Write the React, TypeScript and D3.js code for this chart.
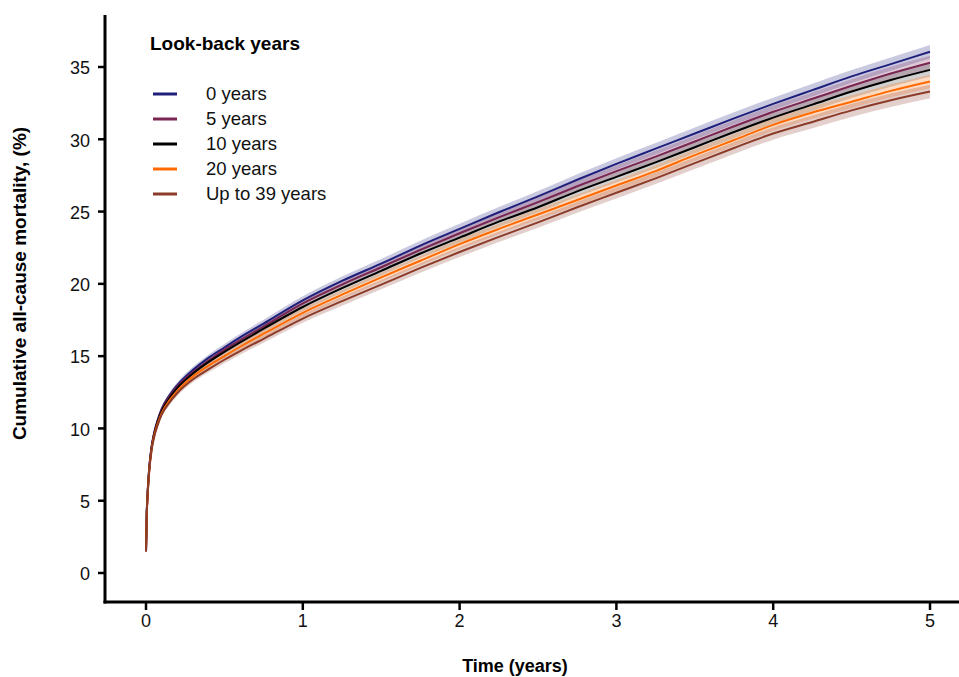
import React from "react";
import * as d3 from "d3";

// time points (years)
const times = [0, 0.005, 0.01, 0.02, 0.035, 0.05, 0.075, 0.1, 0.15, 0.2, 0.3, 0.4, 0.5, 0.6, 0.75, 1, 1.25, 1.5, 1.75, 2, 2.25, 2.5, 2.75, 3, 3.25, 3.5, 3.75, 4, 4.25, 4.5, 4.75, 5];

// cumulative mortality (%) per look-back window
const years0 = [1.5, 4.2, 5.5, 7.2, 8.7, 9.6, 10.6, 11.35, 12.3, 13.0, 14.05, 14.9, 15.6, 16.3, 17.25, 18.85, 20.2, 21.4, 22.65, 23.8, 24.95, 26.05, 27.2, 28.3, 29.35, 30.4, 31.45, 32.45, 33.4, 34.35, 35.2, 36.05];
const years5 = [1.5, 4.2, 5.45, 7.15, 8.65, 9.55, 10.55, 11.3, 12.2, 12.9, 13.9, 14.7, 15.45, 16.1, 17.05, 18.65, 19.95, 21.15, 22.35, 23.5, 24.6, 25.65, 26.75, 27.8, 28.8, 29.85, 30.9, 31.9, 32.8, 33.7, 34.55, 35.3];
const years10 = [1.5, 4.2, 5.4, 7.1, 8.6, 9.5, 10.5, 11.2, 12.1, 12.8, 13.8, 14.6, 15.3, 15.95, 16.9, 18.4, 19.7, 20.9, 22.1, 23.2, 24.3, 25.3, 26.4, 27.4, 28.4, 29.45, 30.5, 31.5, 32.4, 33.3, 34.1, 34.8];
const years20 = [1.5, 4.1, 5.3, 7.0, 8.5, 9.4, 10.35, 11.05, 11.95, 12.6, 13.6, 14.35, 15.0, 15.65, 16.55, 18.0, 19.25, 20.45, 21.6, 22.75, 23.8, 24.8, 25.8, 26.8, 27.8, 28.9, 29.95, 31.0, 31.85, 32.6, 33.35, 34.0];
const yearsAll = [1.5, 4.1, 5.3, 6.95, 8.45, 9.3, 10.25, 10.95, 11.8, 12.45, 13.4, 14.1, 14.75, 15.35, 16.2, 17.6, 18.8, 19.95, 21.1, 22.2, 23.25, 24.25, 25.3, 26.3, 27.3, 28.35, 29.4, 30.4, 31.2, 32.0, 32.7, 33.3];

// 95% CI half-width (%)
const ciHalf = [0, 0.05, 0.07, 0.1, 0.12, 0.13, 0.15, 0.16, 0.18, 0.19, 0.21, 0.22, 0.24, 0.25, 0.27, 0.29, 0.31, 0.32, 0.33, 0.35, 0.36, 0.37, 0.38, 0.39, 0.4, 0.41, 0.42, 0.43, 0.44, 0.45, 0.46, 0.47];

const seriesNames = ["0 years", "5 years", "10 years", "20 years", "Up to 39 years"];
const seriesValues = [years0, years5, years10, years20, yearsAll];
const seriesColors = ["#1f1f7c", "#7a2552", "#000000", "#ff6a00", "#8c3b28"];

const xTicks = [0, 1, 2, 3, 4, 5];
const yTicks = [0, 5, 10, 15, 20, 25, 30, 35];

export default function App() {
  const width = 959;
  const height = 677;
  const x = d3.scaleLinear().domain([0, 5]).range([146, 930]);
  const y = d3.scaleLinear().domain([0, 35]).range([573, 67]);
  const axisX = 105;
  const axisY = 602;
  const font = "Liberation Sans, Arial, sans-serif";

  const line = d3
    .line<number>()
    .x((_, i) => x(times[i]))
    .y((d) => y(d))
    .curve(d3.curveMonotoneX);

  const band = (vals: number[]) =>
    d3
      .area<number>()
      .x((_, i) => x(times[i]))
      .y0((d, i) => y(d - ciHalf[i]))
      .y1((d, i) => y(d + ciHalf[i]))
      .curve(d3.curveMonotoneX)(vals) as string;

  return (
    <svg width={width} height={height} style={{ position: "absolute", left: 0, top: 0 }} fontFamily={font}>
      <rect width={width} height={height} fill="#fff" />

      {/* confidence bands */}
      {seriesValues.map((vals, k) => (
        <path key={"b" + k} d={band(vals)} fill={seriesColors[k]} fillOpacity={k === 2 ? 0.18 : 0.24} stroke="none" />
      ))}

      {/* lines */}
      {seriesValues.map((vals, k) => (
        <path key={"l" + k} d={line(vals) as string} fill="none" stroke={seriesColors[k]} strokeWidth={2} />
      ))}

      {/* axes */}
      <line x1={axisX} x2={axisX} y1={15} y2={axisY + 1.5} stroke="#000" strokeWidth={3} />
      <line x1={axisX - 1.5} x2={959} y1={axisY} y2={axisY} stroke="#000" strokeWidth={3} />

      {yTicks.map((t) => (
        <g key={"y" + t}>
          <line x1={axisX - 7} x2={axisX} y1={y(t)} y2={y(t)} stroke="#000" strokeWidth={2.5} />
          <text x={90} y={y(t) + 1} dy="0.35em" textAnchor="end" fontSize={18} fill="#111">
            {t}
          </text>
        </g>
      ))}

      {xTicks.map((t) => (
        <g key={"x" + t}>
          <line x1={x(t)} x2={x(t)} y1={axisY} y2={axisY + 8} stroke="#000" strokeWidth={2.5} />
          <text x={x(t)} y={627} textAnchor="middle" fontSize={18} fill="#111">
            {t}
          </text>
        </g>
      ))}

      <text x={515} y={672} textAnchor="middle" fontSize={18} fontWeight="bold">
        Time (years)
      </text>
      <text
        transform={`translate(26, ${(15 + axisY) / 2 - 25}) rotate(-90)`}
        textAnchor="middle"
        fontSize={19}
        fontWeight="bold"
      >
        Cumulative all-cause mortality, (%)
      </text>

      {/* legend */}
      <text x={150} y={50} fontSize={19} fontWeight="bold">
        Look-back years
      </text>
      {seriesNames.map((name, k) => (
        <g key={"lg" + k}>
          <line x1={153} x2={177} y1={94 + k * 25} y2={94 + k * 25} stroke={seriesColors[k]} strokeWidth={3} />
          <text x={206} y={94 + k * 25} dy="0.35em" fontSize={18.5} fill="#111">
            {name}
          </text>
        </g>
      ))}
    </svg>
  );
}
